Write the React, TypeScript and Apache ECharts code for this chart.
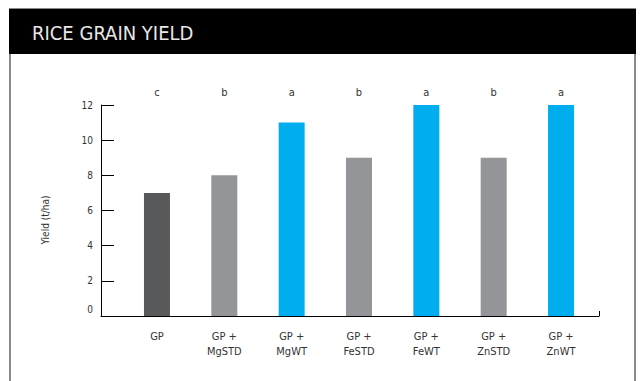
import React, { useEffect, useRef } from "react";
import * as echarts from "echarts";

const categories = ["GP", "GP +\nMgSTD", "GP +\nMgWT", "GP +\nFeSTD", "GP +\nFeWT", "GP +\nZnSTD", "GP +\nZnWT"];
const yieldValues = [7, 8, 11, 9, 12, 9, 12];
const letters = ["c", "b", "a", "b", "a", "b", "a"];
const barColors = ["#58595b", "#939598", "#00aeef", "#939598", "#00aeef", "#939598", "#00aeef"];
const yTicks = { min: 0, max: 12, interval: 2 };

const FONT = "'Liberation Sans Narrow', 'DejaVu Sans Condensed', 'Liberation Sans', sans-serif";

export default function App() {
  const ref = useRef<HTMLDivElement>(null);
  useEffect(() => {
    if (!ref.current) return;
    const chart = echarts.init(ref.current, null, { renderer: "svg" });
    chart.setOption({
      animation: false,
      backgroundColor: "#ffffff",
      grid: [
        { left: 101, right: 41, top: 105, bottom: 65 },
        { left: 123.3, right: 45.3, top: 105, bottom: 65 },
      ],
      xAxis: [
        {
          type: "value",
          gridIndex: 0,
          min: 0,
          max: 1,
          interval: 1,
          axisLine: { show: true, lineStyle: { color: "#000", width: 1 } },
          axisTick: { show: true, inside: true, length: 5, lineStyle: { color: "#000" } },
          axisLabel: { show: false },
          splitLine: { show: false },
        },
        {
          type: "category",
          gridIndex: 1,
          data: categories,
          axisLine: { show: false },
          axisTick: { show: false },
          axisLabel: {
            margin: 13,
            fontSize: 11,
            lineHeight: 15,
            color: "#333",
            fontFamily: FONT,
            interval: 0,
          },
        },
        {
          type: "category",
          gridIndex: 1,
          position: "top",
          data: letters,
          axisLine: { show: false },
          axisTick: { show: false },
          axisLabel: { margin: 7, fontSize: 11, color: "#333", fontFamily: FONT, interval: 0 },
        },
      ],
      yAxis: [
        {
          type: "value",
          gridIndex: 0,
          min: yTicks.min,
          max: yTicks.max,
          interval: yTicks.interval,
          axisLine: { show: true, lineStyle: { color: "#000", width: 1 } },
          axisTick: { show: true, inside: true, length: 13, lineStyle: { color: "#000" } },
          axisLabel: {
            margin: 8,
            fontSize: 10,
            color: "#333",
            fontFamily: FONT,
            formatter: (v: number) => (v === 0 ? "{z|0}" : String(v)),
            rich: { z: { fontSize: 10, color: "#333", fontFamily: FONT, padding: [0, 0, 14, 0] } },
          },
          splitLine: { show: false },
        },
        {
          type: "value",
          gridIndex: 1,
          min: yTicks.min,
          max: yTicks.max,
          interval: yTicks.interval,
          show: false,
        },
      ],
      series: [
        {
          type: "bar",
          xAxisIndex: 1,
          yAxisIndex: 1,
          barWidth: 26,
          data: yieldValues.map((v, i) => ({ value: v, itemStyle: { color: barColors[i] } })),
        },
      ],
      graphic: [
        { type: "rect", shape: { x: 9, y: 8, width: 627, height: 1 }, style: { fill: "#8a8a8a" }, silent: true },
        { type: "rect", shape: { x: 9, y: 9, width: 627, height: 45 }, style: { fill: "#000" }, silent: true },
        { type: "rect", shape: { x: 9, y: 54, width: 2, height: 327 }, style: { fill: "#8a8a8a" }, silent: true },
        { type: "rect", shape: { x: 634, y: 54, width: 2, height: 327 }, style: { fill: "#8a8a8a" }, silent: true },
        {
          type: "text",
          x: 32,
          y: 33,
          style: {
            text: "RICE GRAIN YIELD",
            fill: "#e8e8e8",
            fontSize: 20,
            fontFamily: FONT,
            verticalAlign: "middle",
            align: "left",
          },
          silent: true,
        },
        {
          type: "text",
          x: 45,
          y: 220,
          rotation: Math.PI / 2,
          style: {
            text: "Yield (t/ha)",
            fill: "#333",
            fontSize: 10,
            fontFamily: FONT,
            align: "center",
            verticalAlign: "middle",
          },
          silent: true,
        },
      ],
    });
    return () => chart.dispose();
  }, []);
  return <div ref={ref} style={{ position: "fixed", left: 0, top: 0, width: 640, height: 381 }} />;
}
